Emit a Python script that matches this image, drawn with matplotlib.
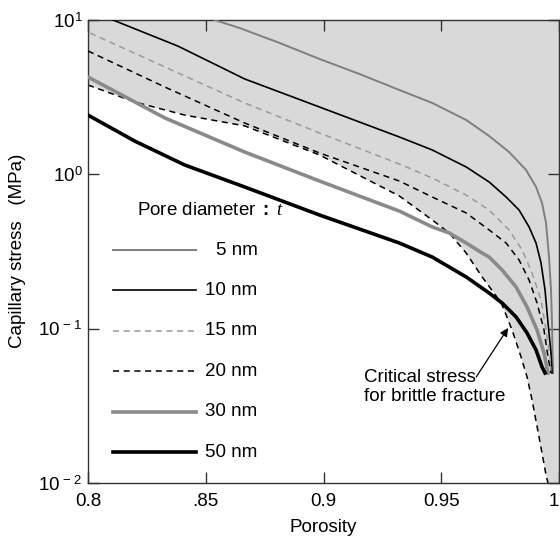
import matplotlib
matplotlib.use("Agg")
import matplotlib.pyplot as plt
from matplotlib.lines import Line2D

plt.rcParams['font.family'] = ['Liberation Sans', 'DejaVu Sans']
plt.rcParams['mathtext.fontset'] = 'custom'
plt.rcParams['mathtext.rm'] = 'Liberation Sans'
plt.rcParams['mathtext.bf'] = 'Liberation Sans:bold'
plt.rcParams['mathtext.it'] = 'Liberation Serif:italic'

# ---- data ----
p5 = [0.85381, 0.86441, 0.88136, 0.89831, 0.91525, 0.93220, 0.94619, 0.96059, 0.97034, 0.97458,
      0.97881, 0.98602, 0.99025, 0.99280, 0.99449, 0.99576, 0.99661, 0.99703, 0.99725, 0.99750]
s5 = [10.0, 8.87, 7.10, 5.59, 4.47, 3.52, 2.90, 2.25, 1.771, 1.572,
      1.395, 1.067, 0.828, 0.652, 0.484, 0.291, 0.178, 0.1088, 0.0695, 0.0516]

p10 = [0.81059, 0.83814, 0.86653, 0.89831, 0.93220, 0.94619, 0.96059, 0.97034, 0.97754, 0.98305,
       0.98729, 0.99025, 0.99237, 0.99407, 0.99534, 0.99661, 0.99703]
s10 = [10.0, 6.78, 4.15, 2.73, 1.746, 1.438, 1.116, 0.892, 0.713, 0.587,
       0.456, 0.359, 0.2663, 0.178, 0.1088, 0.0695, 0.0516]

p15 = [0.80085, 0.83263, 0.86653, 0.89831, 0.93220, 0.94619, 0.96059, 0.97034, 0.97881, 0.98432,
       0.98856, 0.99237, 0.99449, 0.99619, 0.99661]
s15 = [8.24, 4.96, 2.90, 1.853, 1.167, 0.947, 0.734, 0.587, 0.436, 0.3236,
       0.2296, 0.1535, 0.098, 0.0655, 0.0516]

p20 = [0.8, 0.83263, 0.86653, 0.89831, 0.93220, 0.94619, 0.96059, 0.97034, 0.97754, 0.98305,
       0.98729, 0.99068, 0.99364, 0.99534, 0.99661]
s20 = [6.30, 3.68, 2.15, 1.375, 0.905, 0.713, 0.562, 0.436, 0.359, 0.2786,
       0.2066, 0.1466, 0.098, 0.0655, 0.0516]

p30 = [0.8, 0.83263, 0.86653, 0.89831, 0.93220, 0.94619, 0.95339, 0.96059, 0.96737, 0.97034,
       0.97585, 0.98178, 0.98644, 0.99068, 0.99364, 0.99534]
s30 = [4.27, 2.32, 1.395, 0.905, 0.578, 0.456, 0.417, 0.359, 0.309, 0.291,
       0.240, 0.1862, 0.138, 0.098, 0.0695, 0.0516]

p50 = [0.8, 0.81992, 0.84110, 0.86653, 0.89831, 0.93220, 0.94619, 0.96059, 0.97034, 0.97585,
       0.98178, 0.98644, 0.99025, 0.99280, 0.99407]
s50 = [2.42, 1.64, 1.149, 0.828, 0.545, 0.359, 0.291, 0.2163, 0.1702, 0.1466,
       0.1191, 0.0937, 0.0728, 0.0565, 0.0516]

p_crit = [0.8, 0.81992, 0.84110, 0.86653, 0.89831, 0.93220, 0.94619, 0.95339, 0.96059, 0.96737,
          0.97331, 0.97585, 0.98008, 0.98390, 0.98644, 0.98856, 0.99153, 0.99449, 0.99534]
s_crit = [3.79, 2.94, 2.42, 2.06, 1.335, 0.724, 0.506, 0.417, 0.309, 0.2163,
          0.1628, 0.1423, 0.098, 0.0655, 0.0486, 0.0345, 0.01986, 0.01127, 0.01]

labels = ['5 nm', '10 nm', '15 nm', '20 nm', '30 nm', '50 nm']
xticks = [0.8, 0.85, 0.9, 0.95, 1.0]
xticklabels = ['0.8', '.85', '0.9', '0.95', '1']
yticks = [0.01, 0.1, 1, 10]
yticklabels = [r'$10^{\,-\,2}$', r'$10^{\,-\,1}$', r'$10^{0}$', r'$10^{1}$']

# ---- styles ----
styles = [
    dict(color='#7f7f7f', lw=1.4, ls='-'),
    dict(color='black', lw=1.2, ls='-'),
    dict(color='#9a9a9a', lw=1.1, ls=(0, (4, 3))),
    dict(color='black', lw=1.1, ls=(0, (4, 3))),
    dict(color='#8a8a8a', lw=2.6, ls='-'),
    dict(color='black', lw=2.6, ls='-'),
]
series = [(p5, s5), (p10, s10), (p15, s15), (p20, s20), (p30, s30), (p50, s50)]
FS = 13.5

fig = plt.figure(figsize=(5.6, 5.4), dpi=100)
ax = fig.add_axes([88/560, 1-483/540, (559-88)/560, (483-20)/540])
ax.set_yscale('log')
ax.set_xlim(0.8, 1.0)
ax.set_ylim(0.01, 10)

# shaded region above / right of the critical curve
poly_x = p_crit + [1.0, 1.0, 0.8]
poly_y = s_crit + [0.01, 10, 10]
ax.fill(poly_x, poly_y, color='#d9d9d9', lw=0, zorder=0)

ax.plot(p_crit, s_crit, color='black', lw=1.1, ls=(0, (4, 3)), zorder=2)
for (px, sy), st in zip(series, styles):
    ax.plot(px, sy, zorder=3, solid_joinstyle='round', **st)

# manual legend
ax.text(0.104, 0.5896, r'Pore diameter $\mathbf{:}$ $\mathit{t}$', transform=ax.transAxes,
        fontsize=FS, va='center', ha='left')
for i, (lab, st) in enumerate(zip(labels, styles)):
    yf = 0.5032 - i * 0.0873
    ax.add_line(Line2D([0.053, 0.229], [yf, yf], transform=ax.transAxes, **st))
    ax.text(0.360, yf, lab, transform=ax.transAxes, fontsize=FS,
            va='center', ha='right')

# annotation
ax.text(0.9174, 0.0548, 'Critical stress\nfor brittle fracture', fontsize=FS,
        va='top', ha='left', linespacing=1.15)
ax.annotate('', xy=(0.97839, 0.101), xytext=(0.96483, 0.0486),
            arrowprops=dict(arrowstyle='-|>', color='black', lw=0.9,
                            mutation_scale=12, shrinkA=0, shrinkB=0))

ax.set_xticks(xticks)
ax.set_xticklabels(xticklabels, fontsize=FS)
ax.get_xticklabels()[-1].set_horizontalalignment('right')
ax.set_yticks(yticks)
ax.set_yticklabels(yticklabels, fontsize=FS)
ax.minorticks_off()
ax.tick_params(direction='in', length=8, width=1.0, top=True, right=True,
               color='#333333')
ax.tick_params(axis='x', pad=7)
ax.tick_params(axis='y', pad=4)
for sp in ax.spines.values():
    sp.set_color('#333333')
    sp.set_linewidth(1.0)

fig.text(323/560, 1-528/540, 'Porosity', fontsize=FS, ha='center', va='center')
fig.text(18/560, 1-251/540, 'Capillary stress   (MPa)', fontsize=FS, ha='center',
         va='center', rotation=90)

fig.savefig('out.png', dpi=100)
